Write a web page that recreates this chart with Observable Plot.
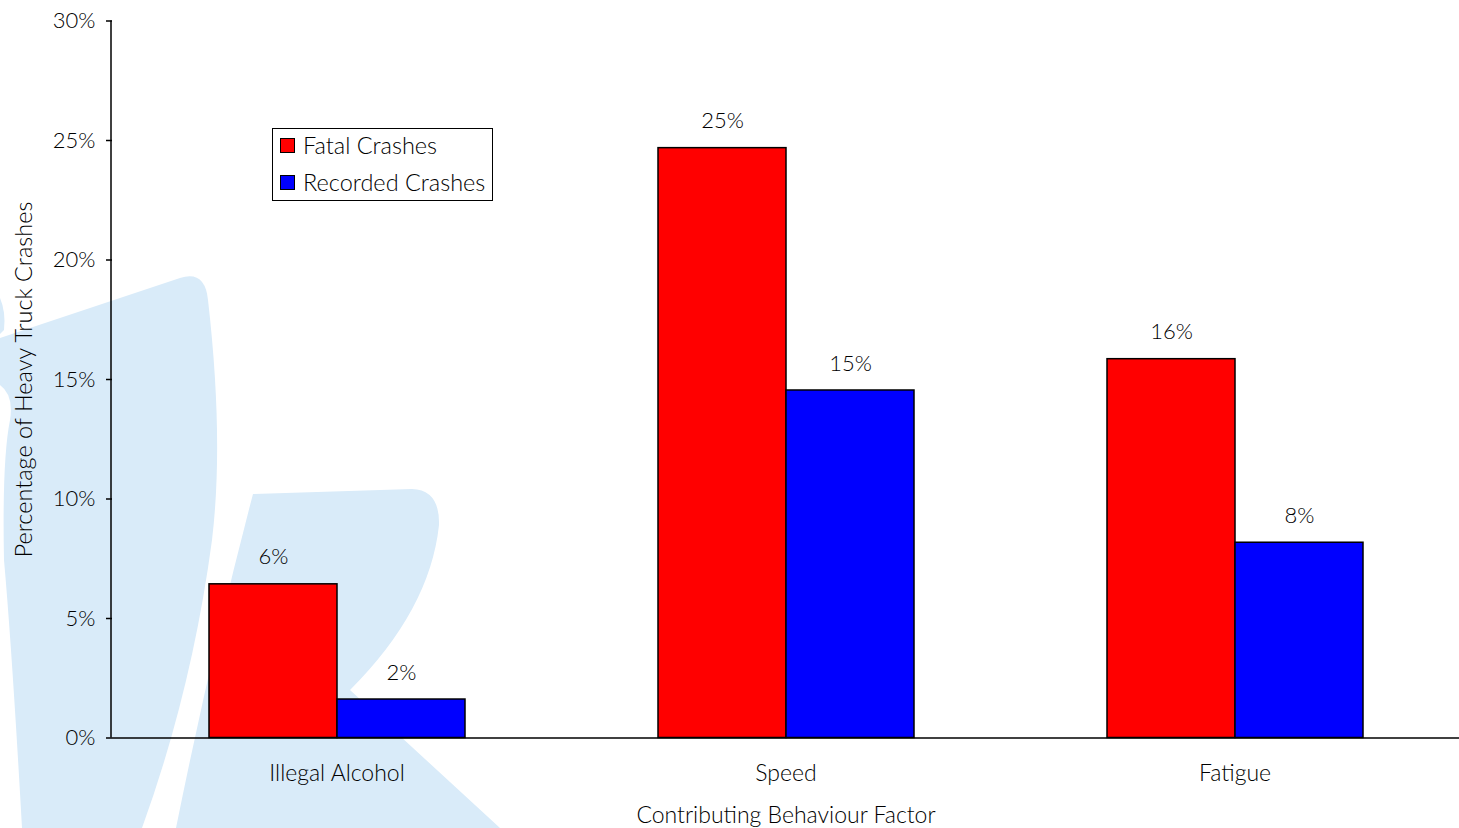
<!DOCTYPE html>
<html>
<head>
<meta charset="utf-8">
<script src="https://cdn.jsdelivr.net/npm/d3@7"></script>
<script src="https://cdn.jsdelivr.net/npm/@observablehq/plot@0.6"></script>
<style>
  html, body { margin: 0; padding: 0; background: #fff; }
  #wrap { position: relative; width: 1459px; height: 828px; overflow: hidden; font-family: Lato, "Open Sans", sans-serif; font-weight: 300; }
  #bg { position: absolute; left: 0; top: 0; }
  #chart { position: absolute; left: 0; top: 0; }
  #legend { position: absolute; left: 272px; top: 128px; width: 219px; height: 71px; border: 1.5px solid #000; background: #fff; font-size: 23.5px; color: #000; }
  #legend .row { position: absolute; left: 7px; display: flex; align-items: center; height: 24px; }
  #legend .sw { width: 13px; height: 13px; border: 1px solid #000; margin-right: 8px; }
</style>
</head>
<body>
<div id="wrap">
  <svg id="bg" width="1459" height="828" viewBox="0 0 1459 828">
    <g fill="#d9ebf9">
      <path d="M0,298 Q6,312 4,330 L0,334 Z"/>
      <path d="M0,338 L180,278 Q205,270 208,300 Q224,440 212,540 Q192,690 142,828 L22,828 Q12,650 4,560 Q2,460 10,420 Q14,395 0,385 Z"/>
      <path d="M253,494 L412,489 Q440,490 439,525 Q430,610 350,690 L500,828 L176,828 Q212,650 253,494 Z"/>
    </g>
  </svg>
  <div id="chart"></div>
  <div id="legend"></div>
</div>
<script>
const categories = ["Illegal Alcohol", "Speed", "Fatigue"];
const series = ["Fatal Crashes", "Recorded Crashes"];
const fatal = [6.43, 24.68, 15.85];
const recorded = [1.61, 14.54, 8.17];
const yTicks = [0, 5, 10, 15, 20, 25, 30];
const colors = ["#ff0000", "#0000ff"];

const data = [];
categories.forEach((c, i) => {
  data.push({category: c, series: series[0], value: fatal[i]});
  data.push({category: c, series: series[1], value: recorded[i]});
});

const W = 1459, H = 828, mL = 111, mR = 0, mT = 20.5, mB = 90.5;
const font = "Lato, 'Open Sans', sans-serif";

const chart = Plot.plot({
  width: W,
  height: H,
  marginLeft: mL,
  marginRight: mR,
  marginTop: mT,
  marginBottom: mB,
  style: {background: "transparent", fontFamily: font, fontSize: "22px", fontWeight: 300, color: "#000"},
  fx: {domain: categories, padding: 0},
  x: {domain: series, paddingInner: 0, paddingOuter: 0.75, axis: null},
  y: {domain: [0, 30]},
  color: {domain: series, range: colors},
  marks: [
    Plot.axisY({ticks: yTicks, tickFormat: d => d + "%", tickSize: 6, tickPadding: 11, fontSize: 22,
      label: null, stroke: "#000", strokeWidth: 1.5}),
    Plot.axisY({ticks: [], tickSize: 0, fontSize: 23.5,
      label: "Percentage of Heavy Truck Crashes", labelAnchor: "center", labelArrow: "none", labelOffset: 97}),
    Plot.axisFx({anchor: "bottom", tickSize: 0, tickPadding: 27, fontSize: 23,
      label: "Contributing Behaviour Factor", labelAnchor: "center", labelArrow: "none", labelOffset: 85}),
    Plot.barY(data, {fx: "category", x: "series", y: "value", fill: "series", stroke: "#000", strokeWidth: 1.5}),
    Plot.text(data, {fx: "category", x: "series", y: "value", text: d => Math.round(d.value) + "%", dy: -27, fontSize: 22, fill: "#000"}),
    Plot.ruleY([0], {stroke: "#000", strokeWidth: 1.5})
  ]
});

// y-axis domain line drawn from the chart's own y scale
const ys = chart.scale("y");
d3.select(chart).append("line")
  .attr("x1", mL).attr("x2", mL)
  .attr("y1", ys.range[0]).attr("y2", ys.range[1])
  .attr("stroke", "#000").attr("stroke-width", 1.5);

document.getElementById("chart").appendChild(chart);

const legend = d3.select("#legend");
series.forEach((s, i) => {
  const row = legend.append("div").attr("class", "row").style("top", (i === 0 ? 4 : 41) + "px");
  row.append("div").attr("class", "sw").style("background", colors[i]);
  row.append("span").text(s);
});
</script>
</body>
</html>
